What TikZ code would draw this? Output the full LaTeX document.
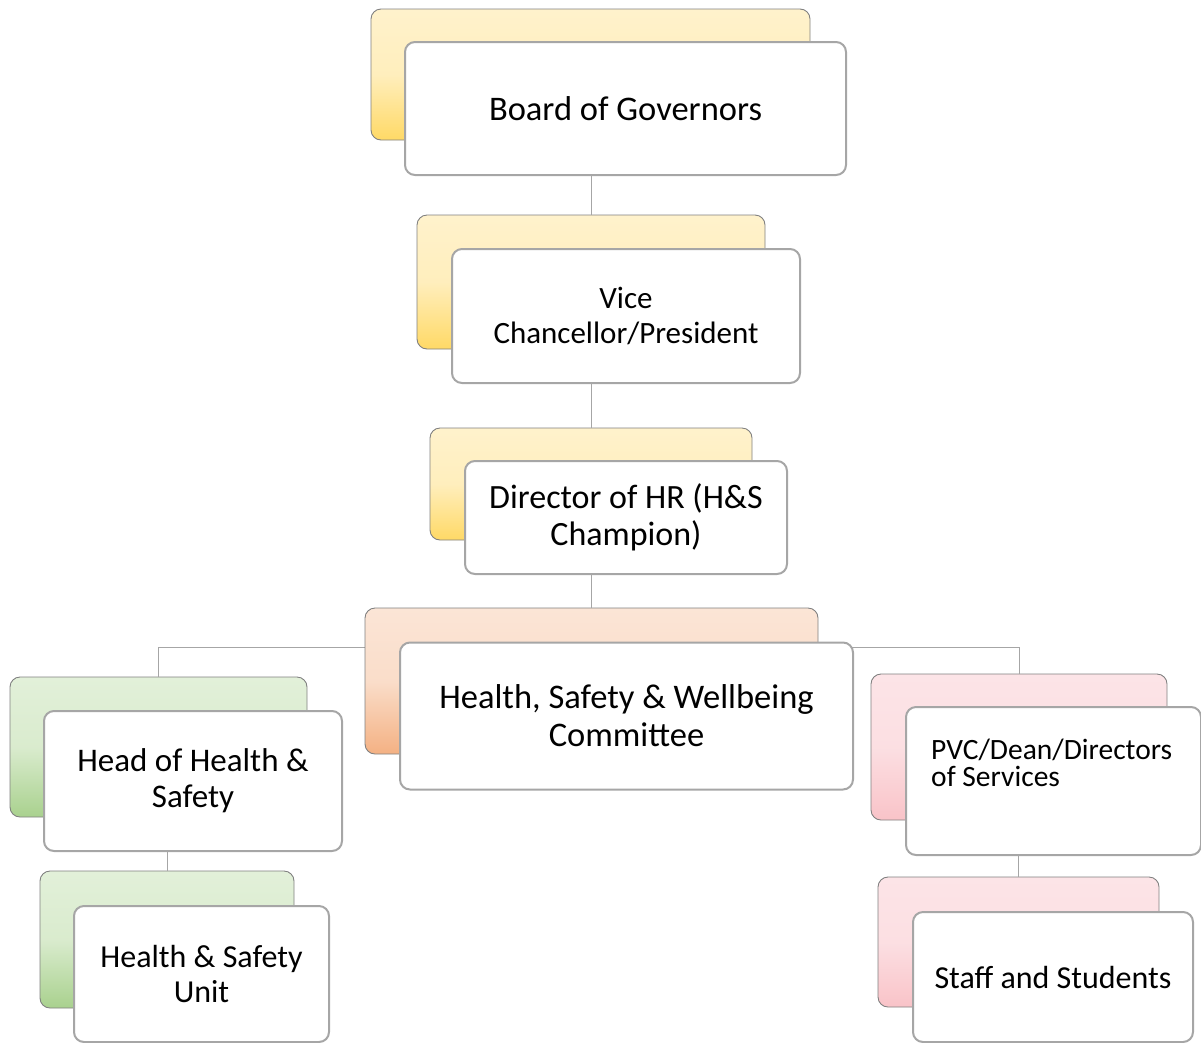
\documentclass[tikz,border=0pt]{standalone}
\usepackage{fontspec}
\setmainfont{Carlito}
\definecolor{goldL}{HTML}{FFF2CC}
\definecolor{goldD}{HTML}{FFD966}
\definecolor{greenL}{HTML}{E2F0D9}
\definecolor{greenD}{HTML}{A9D18E}
\definecolor{orangeL}{HTML}{FBE5D6}
\definecolor{orangeD}{HTML}{F4B183}
\definecolor{pinkL}{HTML}{FCE4E7}
\definecolor{pinkD}{HTML}{F9C3C8}
\definecolor{backline}{HTML}{808080}
\definecolor{frontline}{HTML}{A6A6A6}
\definecolor{conn}{HTML}{A6A6A6}
\tikzset{
  backbox/.style n args={4}{draw=backline, line width=0.9pt, rounded corners=10pt,
    minimum width=#1, minimum height=#2, inner sep=0pt,
    top color=#3, bottom color=#4, middle color=#3!85!#4},
  frontbox/.style 2 args={draw=frontline, line width=2pt, rounded corners=10pt, fill=white,
    minimum width=#1, minimum height=#2, inner sep=0pt, align=center},
  connector/.style={draw=conn, line width=1pt},
}
\newcommand{\fs}[1]{\fontsize{#1}{1.1\dimexpr#1pt\relax}\selectfont}
\begin{document}
\begin{tikzpicture}[x=1pt,y=-1pt]
\useasboundingbox (0,0) rectangle (1201,1042);
% coordinates for connectors
\coordinate (hj) at (591,647);
% back boxes
\node[backbox={439pt}{131pt}{goldL}{goldD}] (bogb) at (590.5,74.5) {};
\node[backbox={348pt}{134pt}{goldL}{goldD}] (vcb) at (591,282) {};
\node[backbox={322pt}{112pt}{goldL}{goldD}] (dirb) at (591,484) {};
\node[backbox={297pt}{140pt}{greenL}{greenD}] (headb) at (158.5,747) {};
\node[backbox={254pt}{137pt}{greenL}{greenD}] (unitb) at (167,939.5) {};
\node[backbox={296pt}{146pt}{pinkL}{pinkD}] (pvcb) at (1019,747) {};
\node[backbox={281pt}{130pt}{pinkL}{pinkD}] (staffb) at (1018.5,942) {};
% front boxes
\node[frontbox={441pt}{133pt}, font=\fs{34.5}] (bogf) at (625.5,108.5) {Board of Governors};
\node[frontbox={348pt}{134pt}, font=\fs{31}] (vcf) at (626,316) {Vice\\Chancellor/President};
\node[frontbox={322pt}{113pt}, font=\fs{34}] (dirf) at (626,517.5) {Director of HR (H\&S\\Champion)};
% connectors
\draw[connector] (vcb.north) -- (vcb.north |- bogf.south);
\draw[connector] (dirb.north) -- (dirb.north |- vcf.south);
\draw[connector] (headb.north) |- (hj) -| (pvcb.north);
\node[backbox={453pt}{146pt}{orangeL}{orangeD}] (hswb) at (591.5,681) {};
\draw[connector] (hswb.north) -- (hswb.north |- dirf.south);
\node[frontbox={453pt}{147pt}, font=\fs{34.5}] (hswf) at (626.5,716) {Health, Safety \& Wellbeing\\Committee};
\node[frontbox={298pt}{140pt}, font=\fs{33}] (headf) at (193,781) {Head of Health \&\\Safety};
\node[frontbox={255pt}{136pt}, font=\fs{32}] (unitf) at (201.5,974) {Health \& Safety\\Unit};
\node[frontbox={295pt}{148pt}] (pvcf) at (1053.5,781) {};
\node[anchor=north west, inner sep=0pt, align=left, font=\fontsize{29.5}{27}\selectfont] (pvct) at (931,739) {PVC/Dean/Directors\\of Services};
\node[frontbox={280pt}{130pt}, font=\fs{32}] (stafff) at (1053,977) {Staff and Students};
\draw[connector] (unitb.north) -- (unitb.north |- headf.south);
\draw[connector] (staffb.north) -- (staffb.north |- pvcf.south);
\end{tikzpicture}
\end{document}
